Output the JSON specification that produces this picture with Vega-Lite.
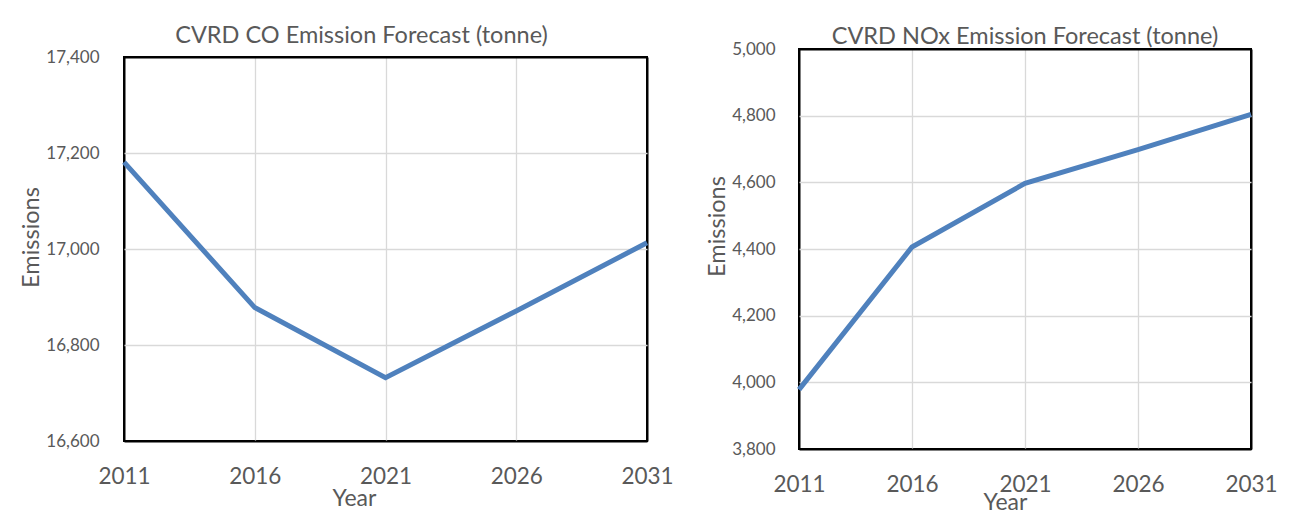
{
  "$schema": "https://vega.github.io/schema/vega-lite/v6.json",
  "padding": {"left": 18, "top": 22, "right": 0, "bottom": 0},
  "background": "white",
  "spacing": 152,
  "center": true,
  "bounds": "flush",
  "datasets": {
    "co": [
      {"Year": 2011, "Emissions": 17181},
      {"Year": 2016, "Emissions": 16878},
      {"Year": 2021, "Emissions": 16732},
      {"Year": 2026, "Emissions": 16871},
      {"Year": 2031, "Emissions": 17013}
    ],
    "nox": [
      {"Year": 2011, "Emissions": 3978},
      {"Year": 2016, "Emissions": 4406},
      {"Year": 2021, "Emissions": 4597},
      {"Year": 2026, "Emissions": 4698},
      {"Year": 2031, "Emissions": 4804}
    ]
  },
  "config": {
    "font": "Lato",
    "view": {"stroke": "black", "strokeWidth": 2},
    "axis": {
      "labelColor": "#595959",
      "titleColor": "#595959",
      "gridWidth": 1.3,
      "domain": false,
      "ticks": false,
      "labelFont": "Lato",
      "titleFont": "Lato",
      "titleFontWeight": "normal",
      "labelFlush": false,
      "labelOverlap": false
    },
    "title": {"color": "#595959", "fontSize": 23.5, "fontWeight": "normal", "font": "Lato"}
  },
  "hconcat": [
    {
      "width": 523,
      "height": 384,
      "title": {"text": "CVRD CO Emission Forecast (tonne)", "frame": "group", "dx": -24, "offset": 1},
      "data": {"name": "co"},
      "mark": {"type": "line", "color": "#4f81bd", "strokeWidth": 5},
      "encoding": {
        "x": {
          "field": "Year", "type": "quantitative", "title": "Year",
          "scale": {"domain": [2011, 2031], "nice": false, "zero": false},
          "axis": {
            "values": [2011, 2016, 2021, 2026, 2031], "format": "d", "labelFontSize": 22.5, "labelPadding": 24, "titleFontSize": 23, "titlePadding": 0, "titleX": 230,
            "gridColor": {"condition": {"test": "datum.value === 2011 || datum.value === 2031", "value": "black"}, "value": "#d9d9d9"},
            "gridWidth": {"condition": {"test": "datum.value === 2011 || datum.value === 2031", "value": 2}, "value": 1.3}
          }
        },
        "y": {
          "field": "Emissions", "type": "quantitative", "title": "Emissions",
          "scale": {"domain": [16600, 17400], "nice": false, "zero": false},
          "axis": {
            "values": [16600, 16800, 17000, 17200, 17400], "format": ",d", "labelFontSize": 17, "labelPadding": 25, "titleFontSize": 23.5, "titlePadding": 2, "titleY": 180,
            "gridColor": {"condition": {"test": "datum.value === 16600 || datum.value === 17400", "value": "black"}, "value": "#d9d9d9"},
            "gridWidth": {"condition": {"test": "datum.value === 16600 || datum.value === 17400", "value": 2}, "value": 1.3}
          }
        }
      }
    },
    {
      "width": 452,
      "height": 400,
      "title": {"text": "CVRD NOx Emission Forecast (tonne)", "frame": "group", "dx": 0, "offset": -8},
      "data": {"name": "nox"},
      "mark": {"type": "line", "color": "#4f81bd", "strokeWidth": 5},
      "encoding": {
        "x": {
          "field": "Year", "type": "quantitative", "title": "Year",
          "scale": {"domain": [2011, 2031], "nice": false, "zero": false},
          "axis": {
            "values": [2011, 2016, 2021, 2026, 2031], "format": "d", "labelFontSize": 22.5, "labelPadding": 24, "titleFontSize": 23, "titlePadding": -4, "titleX": 206,
            "gridColor": {"condition": {"test": "datum.value === 2011 || datum.value === 2031", "value": "black"}, "value": "#d9d9d9"},
            "gridWidth": {"condition": {"test": "datum.value === 2011 || datum.value === 2031", "value": 2}, "value": 1.3}
          }
        },
        "y": {
          "field": "Emissions", "type": "quantitative", "title": "Emissions",
          "scale": {"domain": [3800, 5000], "nice": false, "zero": false},
          "axis": {
            "values": [3800, 4000, 4200, 4400, 4600, 4800, 5000], "format": ",d", "labelFontSize": 17, "labelPadding": 24, "titleFontSize": 23.5, "titlePadding": 2, "titleY": 177,
            "gridColor": {"condition": {"test": "datum.value === 3800 || datum.value === 5000", "value": "black"}, "value": "#d9d9d9"},
            "gridWidth": {"condition": {"test": "datum.value === 3800 || datum.value === 5000", "value": 2}, "value": 1.3}
          }
        }
      }
    }
  ]
}
